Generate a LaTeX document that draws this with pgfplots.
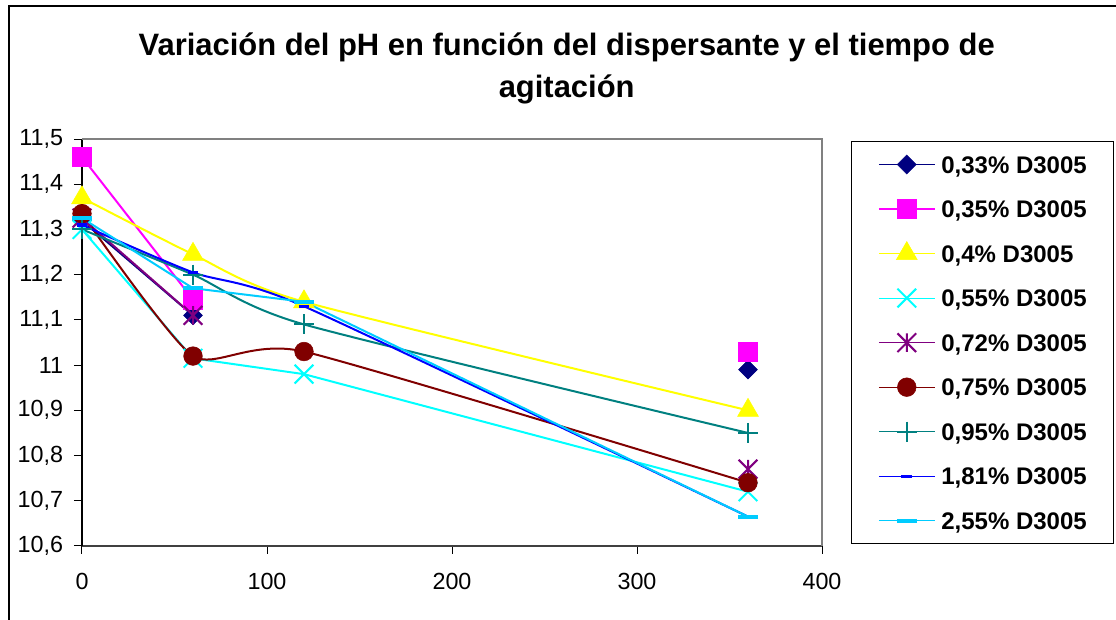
\documentclass[border=0pt]{standalone}
\usepackage{fontspec}
\setmainfont{Liberation Sans}
\usepackage{pgfplots}
\pgfplotsset{compat=1.18}

\definecolor{cNavy}{HTML}{000080}
\definecolor{cMag}{HTML}{FF00FF}
\definecolor{cYel}{HTML}{FFFF00}
\definecolor{cCyan}{HTML}{00FFFF}
\definecolor{cPurp}{HTML}{800080}
\definecolor{cMaroon}{HTML}{800000}
\definecolor{cTeal}{HTML}{008080}
\definecolor{cBlue}{HTML}{0000FF}
\definecolor{cSky}{HTML}{00CCFF}

% Excel-like x and star markers
\pgfdeclareplotmark{xcross}{%
  \pgfpathmoveto{\pgfqpoint{-\pgfplotmarksize}{-\pgfplotmarksize}}%
  \pgfpathlineto{\pgfqpoint{\pgfplotmarksize}{\pgfplotmarksize}}%
  \pgfpathmoveto{\pgfqpoint{-\pgfplotmarksize}{\pgfplotmarksize}}%
  \pgfpathlineto{\pgfqpoint{\pgfplotmarksize}{-\pgfplotmarksize}}%
  \pgfusepathqstroke}
\pgfdeclareplotmark{xstar}{%
  \pgfpathmoveto{\pgfqpoint{-\pgfplotmarksize}{-\pgfplotmarksize}}%
  \pgfpathlineto{\pgfqpoint{\pgfplotmarksize}{\pgfplotmarksize}}%
  \pgfpathmoveto{\pgfqpoint{-\pgfplotmarksize}{\pgfplotmarksize}}%
  \pgfpathlineto{\pgfqpoint{\pgfplotmarksize}{-\pgfplotmarksize}}%
  \pgfpathmoveto{\pgfqpoint{0pt}{-\pgfplotmarksize}}%
  \pgfpathlineto{\pgfqpoint{0pt}{\pgfplotmarksize}}%
  \pgfusepathqstroke}

\begin{document}
\begin{tikzpicture}
\useasboundingbox (0,0) rectangle (837pt,465pt);
\draw[line width=1.5pt] (7.1pt,-2pt) -- (7.1pt,460.5pt) -- (840pt,460.5pt);

\node[font=\fontsize{23.2}{27}\selectfont\bfseries, anchor=base, inner sep=0pt]
  at (425pt,423pt) {Variación del pH en función del dispersante y el tiempo de};
\node[font=\fontsize{23.2}{27}\selectfont\bfseries, anchor=base, inner sep=0pt]
  at (425pt,391.5pt) {agitación};

\begin{axis}[
  at={(61.5pt,55.5pt)}, anchor=south west,
  width=555pt, height=305.25pt, scale only axis,
  xmin=0, xmax=400, ymin=10.6, ymax=11.5,
  xtick={0,100,200,300,400},
  ytick={10.6,10.7,10.8,10.9,11,11.1,11.2,11.3,11.4,11.5},
  axis lines*=left,
  x axis line style={draw=black!75, line width=1pt},
  y axis line style={draw=black, line width=1pt},
  tick align=outside,
  major tick length=6pt,
  tick style={black, line width=0.75pt},
  clip=false,
  unbounded coords=jump,
  /pgf/number format/.cd, use comma, fixed, precision=2, 1000 sep={}, assume math mode=true,
  /pgfplots/.cd,
  tick label style={font=\fontsize{17.5}{20}\selectfont},
  yticklabel style={inner sep=0pt, xshift=-8pt},
  xticklabel style={inner sep=0pt, yshift=-14pt},
  legend style={
    at={(1.0392,0.9951)}, anchor=north west,
    draw=black, line width=0.75pt, fill=white,
    inner xsep=20pt, inner ysep=6.75pt,
    font=\fontsize{18}{21}\selectfont\bfseries,
    row sep=12.4pt,
    nodes={inner sep=0pt, text height=17pt, text depth=4pt},
    /tikz/every odd column/.append style={column sep=4.5pt},
  },
  legend cell align=left,
  legend image code/.code={\draw[mark repeat=2,mark phase=2,#1,line width=0.9pt]
    plot coordinates {(0pt,0pt) (21pt,0pt) (42pt,0pt)};},
]
\draw[black!50, line width=1pt] (rel axis cs:0,1) -- (rel axis cs:1,1) -- (rel axis cs:1,0);

% 0,33%
\addplot[cNavy, line width=1.5pt, mark=square*, mark size=5pt,
  mark options={rotate=45, line width=0.4pt}] coordinates {
  (0,11.32) (60,11.11) (120,nan) (360,10.99)};
% 0,35%
\addplot[cMag, line width=1.5pt, mark=square*, mark size=7pt,
  mark options={line width=0.4pt}] coordinates {
  (0,11.46) (60,11.145) (120,nan) (360,11.03)};
% 0,4%
\addplot[cYel, line width=1.5pt, smooth, tension=0.4, mark=triangle*, mark size=9pt,
  mark options={line width=0.4pt}] coordinates {
  (0,11.37) (60,11.245) (120,11.14) (360,10.90)};
% 0,55%
\addplot[cCyan, line width=1.5pt, mark=xcross, mark size=7pt,
  mark options={line width=1.5pt}] coordinates {
  (0,11.30) (60,11.015) (120,10.98) (360,10.72)};
% 0,72%
\addplot[cPurp, line width=1.5pt, mark=xstar, mark size=7pt,
  mark options={line width=1.5pt}] coordinates {
  (0,11.325) (60,11.11) (120,nan) (360,10.77)};
% 0,75%
\addplot[cMaroon, line width=1.5pt, smooth, tension=0.35, mark=*, mark size=7pt,
  mark options={line width=0.4pt}] coordinates {
  (0,11.335) (60,11.02) (120,11.03) (360,10.74)};
% 0,95%
\addplot[cTeal, line width=1.5pt, smooth, tension=0.4, mark=+, mark size=7.5pt,
  mark options={line width=1.5pt}] coordinates {
  (0,11.30) (60,11.20) (120,11.09) (360,10.85)};
% 1,81%
\addplot[cBlue, line width=1.5pt, smooth, tension=0.4, mark=-, mark size=4pt,
  mark options={line width=2.5pt}] coordinates {
  (0,11.31) (60,11.205) (120,11.13) (360,10.665)};
% 2,55%
\addplot[cSky, line width=1.5pt, mark=-, mark size=7.5pt,
  mark options={line width=3pt}] coordinates {
  (0,11.325) (60,11.17) (120,11.14) (360,10.665)};

\legend{{0,33\% D3005}, {0,35\% D3005}, {0,4\% D3005}, {0,55\% D3005}, {0,72\% D3005},
  {0,75\% D3005}, {0,95\% D3005}, {1,81\% D3005}, {2,55\% D3005}}
\end{axis}
\end{tikzpicture}
\end{document}
